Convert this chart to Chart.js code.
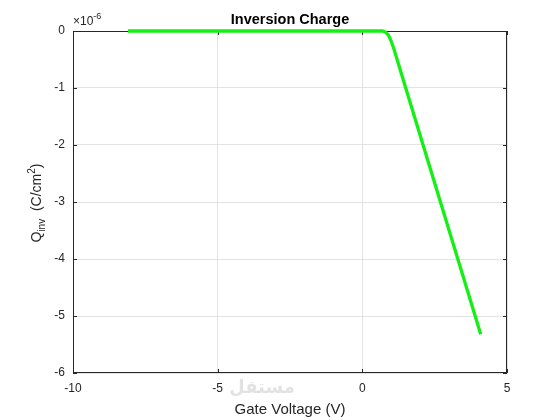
<!DOCTYPE html>
<html>
<head>
<meta charset="utf-8">
<script src="https://cdn.jsdelivr.net/npm/chart.js@4"></script>
<style>
  html, body { margin: 0; padding: 0; background: #fff; }
  #wrap { width: 560px; height: 420px; }
</style>
</head>
<body>
<div id="wrap"><canvas id="chart" width="560" height="420"></canvas></div>
<script>
// Gate voltage (V) and inversion charge (C/cm^2)
const gateVoltage = [-8.1, -6, -4, -2, 0, 0.6, 0.7, 0.8, 0.9, 1.0, 1.1, 1.5, 2.1, 2.7, 3.3, 3.9, 4.09];
const qInv = [0, 0, 0, 0, 0, 0, 0, -0.02e-6, -0.07e-6, -0.18e-6, -0.33e-6, -1.0e-6, -2.0e-6, -3.0e-6, -4.0e-6, -5.0e-6, -5.32e-6];
const xTicks = [-10, -5, 0, 5];
const yTicks = [0, -1e-6, -2e-6, -3e-6, -4e-6, -5e-6, -6e-6];

const axisColor = '#262626';
const fontFamily = '"Liberation Sans", Arial, Helvetica, sans-serif';

const points = gateVoltage.map((v, i) => ({ x: v, y: qInv[i] }));

// Draws the MATLAB-style box, inward ticks, title, labels and exponent
const matlabDecor = {
  id: 'matlabDecor',
  beforeDatasetsDraw(chart) {
    const ctx = chart.ctx;
    const a = chart.chartArea;
    const xs = chart.scales.x;
    const ys = chart.scales.y;
    ctx.save();

    // box
    ctx.strokeStyle = axisColor;
    ctx.lineWidth = 1;
    ctx.strokeRect(a.left + 0.5, a.top + 0.5, a.right - a.left - 1, a.bottom - a.top - 1);

    // inward ticks on all four sides
    const tl = 4;
    ctx.beginPath();
    xTicks.forEach(t => {
      const px = Math.round(xs.getPixelForValue(t)) + 0.5;
      ctx.moveTo(px, a.bottom); ctx.lineTo(px, a.bottom - tl);
      ctx.moveTo(px, a.top); ctx.lineTo(px, a.top + tl);
    });
    yTicks.forEach(t => {
      const py = Math.round(ys.getPixelForValue(t)) + 0.5;
      ctx.moveTo(a.left, py); ctx.lineTo(a.left + tl, py);
      ctx.moveTo(a.right, py); ctx.lineTo(a.right - tl, py);
    });
    ctx.stroke();
    ctx.restore();
  },
  afterDraw(chart) {
    const ctx = chart.ctx;
    const a = chart.chartArea;
    ctx.save();
    ctx.fillStyle = '#000';
    ctx.textAlign = 'center';
    ctx.textBaseline = 'alphabetic';

    // title
    ctx.font = 'bold 14.5px ' + fontFamily;
    ctx.fillText('Inversion Charge', (a.left + a.right) / 2, 24);

    // x axis title
    ctx.fillStyle = axisColor;
    ctx.font = '15px ' + fontFamily;
    ctx.fillText('Gate Voltage (V)', (a.left + a.right) / 2, 414);

    // exponent label
    ctx.textAlign = 'left';
    ctx.font = '12px ' + fontFamily;
    ctx.fillText('\u00d710', a.left, 25);
    const w10 = ctx.measureText('\u00d710').width;
    ctx.font = '9px ' + fontFamily;
    ctx.fillText('-6', a.left + w10, 19);

    // y axis title, rotated, with sub/superscripts
    ctx.save();
    ctx.translate(41, 203);
    ctx.rotate(-Math.PI / 2);
    const parts = [
      { t: 'Q', size: 14, dy: 0 },
      { t: 'inv', size: 10, dy: 4 },
      { t: '  (C/cm', size: 14, dy: 0 },
      { t: '2', size: 10, dy: -6 },
      { t: ')', size: 14, dy: 0 }
    ];
    let total = 0;
    parts.forEach(p => { ctx.font = p.size + 'px ' + fontFamily; p.w = ctx.measureText(p.t).width; total += p.w; });
    let cx = -total / 2;
    parts.forEach(p => {
      ctx.font = p.size + 'px ' + fontFamily;
      ctx.fillText(p.t, cx, p.dy);
      cx += p.w;
    });
    ctx.restore();

    // faint watermark
    ctx.fillStyle = 'rgba(190,190,190,0.45)';
    ctx.font = 'bold 18px "Noto Sans", "DejaVu Sans", sans-serif';
    ctx.textAlign = 'center';
    ctx.fillText('\u0645\u0633\u062a\u0642\u0644', 262, 393);

    ctx.restore();
  }
};

new Chart(document.getElementById('chart'), {
  type: 'line',
  data: {
    datasets: [{
      data: points,
      borderColor: '#14f014',
      borderWidth: 3.3,
      pointRadius: 0,
      tension: 0,
      fill: false,
      clip: false
    }]
  },
  options: {
    responsive: false,
    animation: false,
    layout: { padding: { left: 0, top: 31, right: 53, bottom: 0 } },
    plugins: {
      legend: { display: false },
      title: { display: false },
      tooltip: { enabled: false }
    },
    scales: {
      x: {
        type: 'linear',
        min: -10,
        max: 5,
        afterBuildTicks: s => { s.ticks = xTicks.map(v => ({ value: v })); },
        afterFit: s => { s.height = 47; },
        grid: { color: '#dcdcdc', lineWidth: 0.8, drawTicks: false },
        border: { display: false },
        ticks: {
          color: axisColor,
          padding: 8,
          font: { family: fontFamily, size: 12 },
          callback: v => String(v)
        }
      },
      y: {
        type: 'linear',
        min: -6e-6,
        max: 0,
        afterBuildTicks: s => { s.ticks = yTicks.map(v => ({ value: v })); },
        afterFit: s => { s.width = 73; },
        grid: { color: '#dcdcdc', lineWidth: 0.8, drawTicks: false },
        border: { display: false },
        ticks: {
          color: axisColor,
          padding: 8,
          font: { family: fontFamily, size: 12 },
          callback: v => String(Math.round(v / 1e-6))
        }
      }
    }
  },
  plugins: [matlabDecor]
});
</script>
</body>
</html>
